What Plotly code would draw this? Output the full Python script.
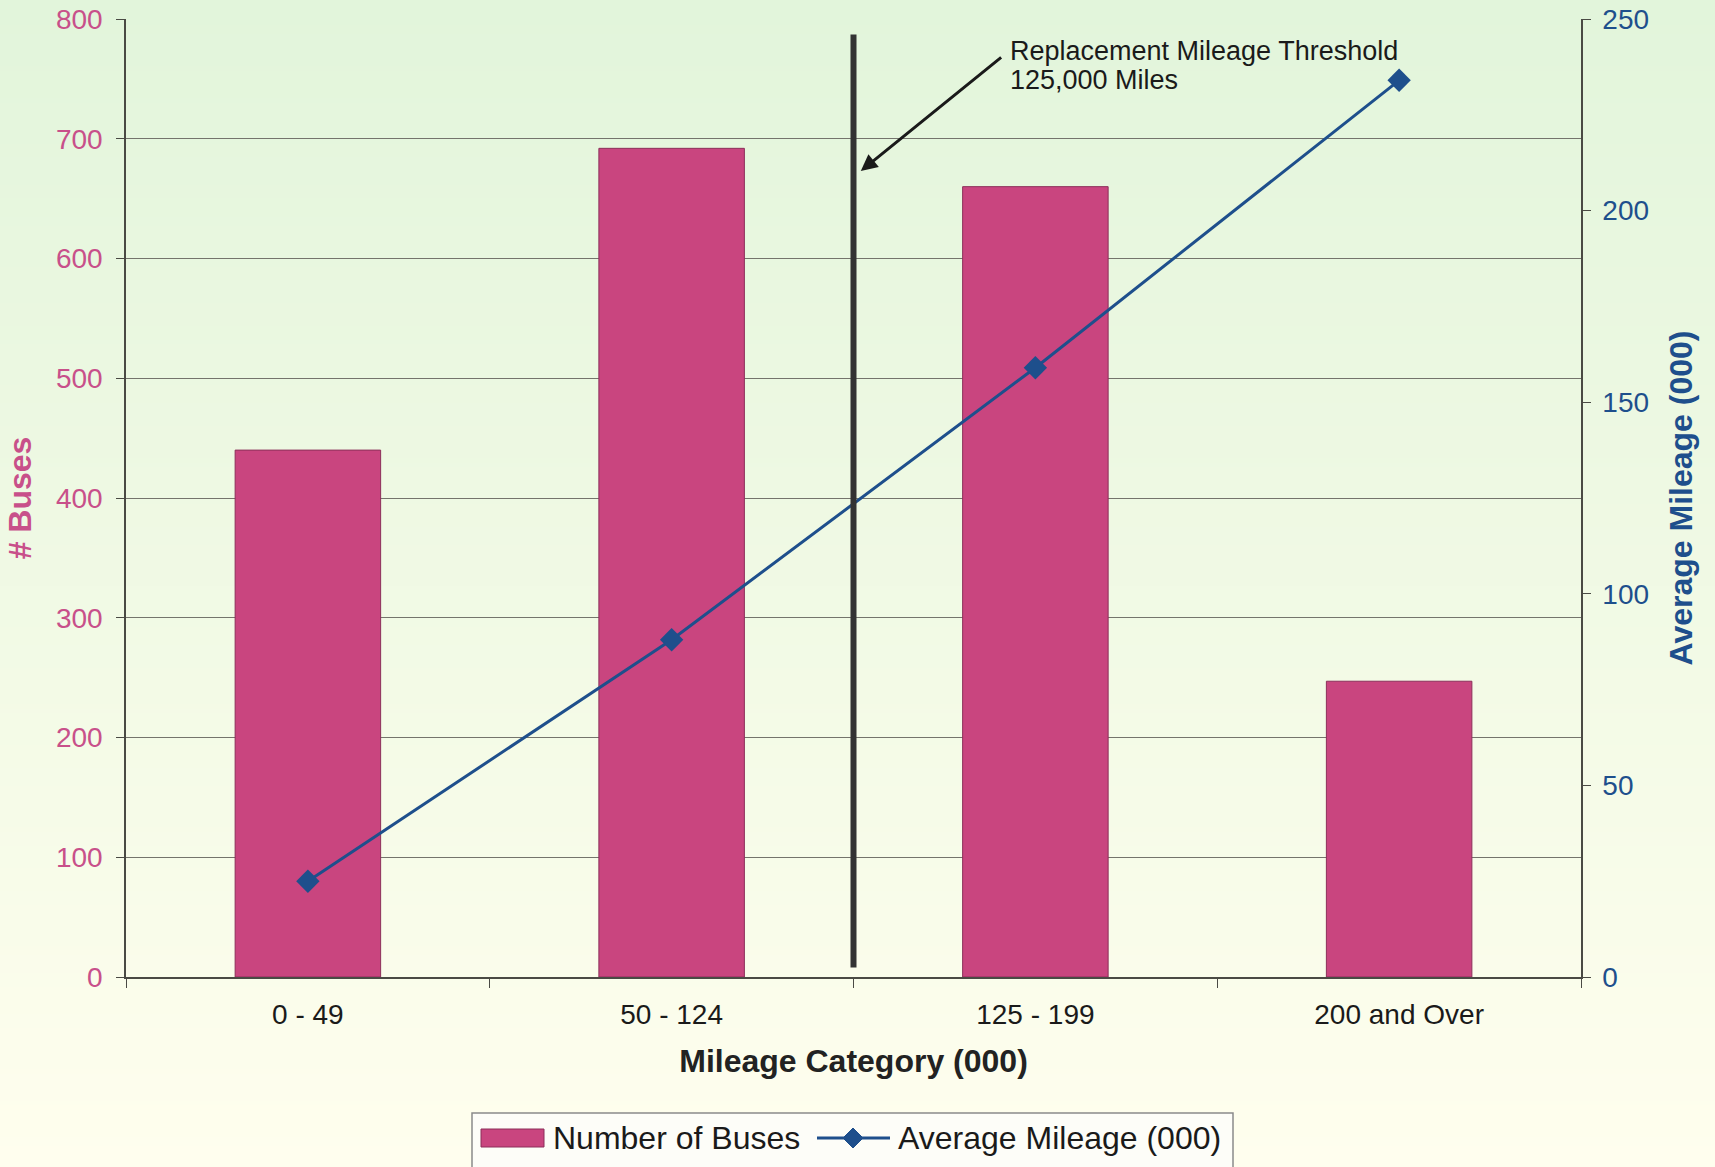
import base64
import struct
import zlib

import plotly.graph_objects as go

# ---- data -------------------------------------------------------------
categories = ["0 - 49", "50 - 124", "125 - 199", "200 and Over"]
num_buses = [440, 692, 660, 247]
avg_mileage = [25, 88, 159, 234]

bus_ticks = list(range(0, 801, 100))
mileage_ticks = list(range(0, 251, 50))

bar_name = "Number of Buses"
line_name = "Average Mileage (000)"
threshold_lines = ["Replacement Mileage Threshold", "125,000 Miles"]

# ---- layout constants -------------------------------------------------
W, H = 1715, 1167
ML, MR, MT, MB = 126, 134, 19, 190
PW, PH = W - ML - MR, H - MT - MB

FONT = "Liberation Sans, Arial, sans-serif"
PINK = "#c9457f"
PINK_EDGE = "#8c2f5a"
PINK_TEXT = "#c8508a"
BLUE = "#1e4f8c"
GRID = "#74746c"
AXIS = "#4a4a44"
INK = "#1a1a1a"


def gradient_png(top, bottom, n=256):
    """Build a 1-pixel-wide vertical gradient PNG as a data URI."""
    raw = b""
    for i in range(n):
        t = i / (n - 1)
        px = bytes(round(a + (b - a) * t) for a, b in zip(top, bottom))
        raw += b"\x00" + px

    def chunk(tag, data):
        return (struct.pack(">I", len(data)) + tag + data
                + struct.pack(">I", zlib.crc32(tag + data) & 0xFFFFFFFF))

    png = (b"\x89PNG\r\n\x1a\n"
           + chunk(b"IHDR", struct.pack(">IIBBBBB", 1, n, 8, 2, 0, 0, 0))
           + chunk(b"IDAT", zlib.compress(raw, 9))
           + chunk(b"IEND", b""))
    return "data:image/png;base64," + base64.b64encode(png).decode()


def px_x(x):
    """Figure pixel column -> paper x."""
    return (x - ML) / PW


def px_y(y):
    """Figure pixel row (from top) -> paper y."""
    return (H - MB - y) / PH


fig = go.Figure()

fig.add_trace(go.Bar(
    x=categories, y=num_buses, name=bar_name,
    marker=dict(color=PINK, line=dict(color=PINK_EDGE, width=1)),
    yaxis="y", showlegend=False,
))

fig.add_trace(go.Scatter(
    x=categories, y=avg_mileage, name=line_name,
    mode="lines+markers",
    line=dict(color=BLUE, width=3),
    marker=dict(symbol="diamond", size=18, color=BLUE),
    yaxis="y2", showlegend=False,
))

# vertical threshold line between the "50 - 124" and "125 - 199" groups
fig.add_shape(
    type="line", xref="x", yref="y",
    x0=1.5, x1=1.5, y0=8, y1=787,
    line=dict(color="#333333", width=6),
)

# arrow pointing at the threshold line, with its two-line caption
fig.add_annotation(
    x=1.52, y=673, xref="x", yref="y",
    ax=1.91, ay=769, axref="x", ayref="y",
    text="", showarrow=True,
    arrowhead=2, arrowsize=1.1, arrowwidth=3, arrowcolor=INK,
)
for i, line in enumerate(threshold_lines):
    fig.add_annotation(
        x=px_x(1008), y=px_y(51 + 28.5 * i), xref="paper", yref="paper",
        text=line, showarrow=False,
        xanchor="left", yanchor="middle", align="left",
        font=dict(family=FONT, size=27, color=INK),
    )

# ---- legend box drawn below the axis title ----------------------------
LEG_Y = 1138
fig.add_shape(type="rect", xref="paper", yref="paper",
              x0=px_x(472), x1=px_x(1233), y0=px_y(1113), y1=px_y(1175),
              fillcolor="#fdfdf8", line=dict(color="#8a8a8a", width=1.5),
              layer="above")
fig.add_shape(type="rect", xref="paper", yref="paper",
              x0=px_x(481), x1=px_x(544), y0=px_y(LEG_Y - 9), y1=px_y(LEG_Y + 9),
              fillcolor=PINK, line=dict(color=PINK_EDGE, width=1),
              layer="above")
fig.add_annotation(x=px_x(551), y=px_y(LEG_Y), xref="paper", yref="paper",
                   text=bar_name, showarrow=False,
                   xanchor="left", yanchor="middle",
                   font=dict(family=FONT, size=32, color=INK))
fig.add_shape(type="line", xref="paper", yref="paper",
              x0=px_x(817), x1=px_x(890), y0=px_y(LEG_Y), y1=px_y(LEG_Y),
              line=dict(color=BLUE, width=3), layer="above")
d = 10
cx = 853
fig.add_shape(type="path", xref="paper", yref="paper",
              path=(f"M {px_x(cx - d)} {px_y(LEG_Y)} L {px_x(cx)} {px_y(LEG_Y - d)} "
                    f"L {px_x(cx + d)} {px_y(LEG_Y)} L {px_x(cx)} {px_y(LEG_Y + d)} Z"),
              fillcolor=BLUE, line=dict(color=BLUE, width=1), layer="above")
fig.add_annotation(x=px_x(896), y=px_y(LEG_Y), xref="paper", yref="paper",
                   text=line_name, showarrow=False,
                   xanchor="left", yanchor="middle",
                   font=dict(family=FONT, size=32, color=INK))

fig.update_layout(
    width=W, height=H,
    margin=dict(l=ML, r=MR, t=MT, b=MB, autoexpand=False),
    paper_bgcolor="#fffeee",
    plot_bgcolor="rgba(0,0,0,0)",
    font=dict(family=FONT, color=INK),
    bargap=0.6,
    showlegend=False,
    images=[dict(
        source=gradient_png((226, 245, 219), (255, 254, 238)),
        xref="paper", yref="paper",
        x=-ML / PW, y=1 + MT / PH,
        sizex=W / PW, sizey=H / PH,
        xanchor="left", yanchor="top",
        sizing="stretch", layer="below",
    )],
    xaxis=dict(
        type="category",
        showgrid=False, showline=True, linecolor=AXIS, linewidth=1.5,
        ticks="outside", tickson="boundaries", ticklen=9, tickcolor=AXIS,
        tickfont=dict(family=FONT, size=28, color=INK),
        ticklabelstandoff=12,
        title=dict(text="<b>Mileage Category (000)</b>",
                   font=dict(family=FONT, size=32, color="#222222"),
                   standoff=20),
        zeroline=False,
    ),
    yaxis=dict(
        range=[0, 800], tickvals=bus_ticks,
        showgrid=True, gridcolor=GRID, gridwidth=1,
        showline=True, linecolor=AXIS, linewidth=1.5,
        ticks="outside", ticklen=8, tickcolor=AXIS,
        tickfont=dict(family=FONT, size=28, color=PINK_TEXT),
        ticklabelstandoff=8,
        title=dict(text="<b># Buses</b>",
                   font=dict(family=FONT, size=32, color=PINK_TEXT),
                   standoff=15),
        zeroline=False,
    ),
    yaxis2=dict(
        range=[0, 250], tickvals=mileage_ticks,
        overlaying="y", side="right",
        showgrid=False, showline=True, linecolor=AXIS, linewidth=1.5,
        ticks="outside", ticklen=8, tickcolor=AXIS,
        tickfont=dict(family=FONT, size=28, color=BLUE),
        ticklabelstandoff=6,
        title=dict(text="<b>Average Mileage (000)</b>",
                   font=dict(family=FONT, size=32, color=BLUE),
                   standoff=22),
        zeroline=False,
    ),
)

fig.write_html("out.html")
